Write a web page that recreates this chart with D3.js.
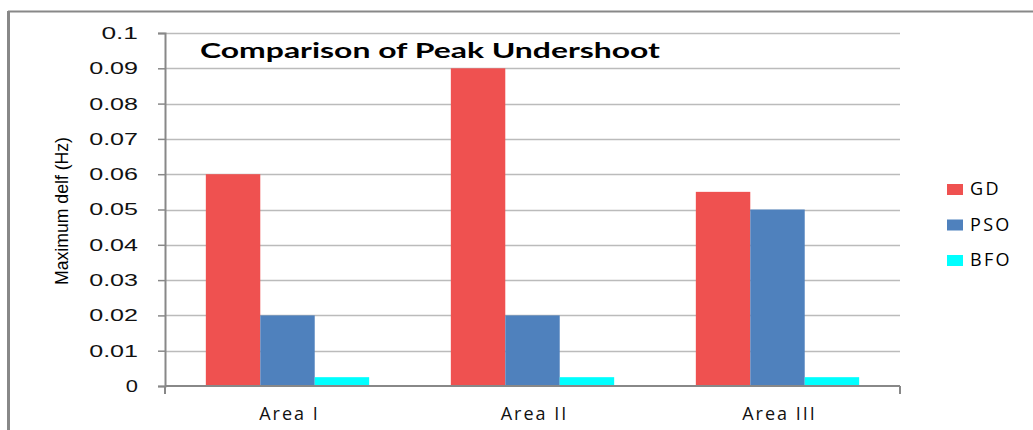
<!DOCTYPE html>
<html>
<head>
<meta charset="utf-8">
<script src="https://cdn.jsdelivr.net/npm/d3@7/dist/d3.min.js"></script>
<style>
  body { margin: 0; background: #fff; }
  svg { display: block; font-family: "Open Sans", "DejaVu Sans", sans-serif; }
</style>
</head>
<body>
<svg id="chart" width="1033" height="430"></svg>
<script>
const categories = ['Area I', 'Area II', 'Area III'];
const seriesNames = ['GD', 'PSO', 'BFO'];
const gdValues = [0.06, 0.09, 0.055];
const psoValues = [0.02, 0.02, 0.05];
const bfoValues = [0.0025, 0.0025, 0.0025];
const yTicks = [0, 0.01, 0.02, 0.03, 0.04, 0.05, 0.06, 0.07, 0.08, 0.09, 0.1];
const colors = ['#EF5150', '#4F81BD', '#00FFFF'];

const series = [gdValues, psoValues, bfoValues];

const svg = d3.select('#chart');
const plotLeft = 165, plotRight = 900, plotTop = 33, plotBottom = 386;

// outer frame (left and top edges only)
svg.append('line').attr('x1', 8.5).attr('x2', 8.5).attr('y1', 11).attr('y2', 430)
  .attr('stroke', '#888').attr('stroke-width', 3);
svg.append('line').attr('x1', 8).attr('x2', 1033).attr('y1', 11.5).attr('y2', 11.5)
  .attr('stroke', '#888').attr('stroke-width', 2);

const y = d3.scaleLinear().domain([0, 0.1]).range([plotBottom, plotTop]);
const x0 = d3.scaleBand().domain(categories).range([plotLeft, plotRight]);
// Excel style gap: band = 3 bars + 1.5 bar gap
const barW = x0.bandwidth() / 4.5;
const x1 = d3.scaleBand().domain(seriesNames)
  .range([barW * 0.75, barW * 3.75]);

// gridlines
svg.append('g').selectAll('line').data(yTicks.slice(1)).join('line')
  .attr('x1', plotLeft).attr('x2', plotRight)
  .attr('y1', d => Math.round(y(d)) + 0.5).attr('y2', d => Math.round(y(d)) + 0.5)
  .attr('stroke', '#bbb').attr('stroke-width', 1.5);

// bars
const groups = svg.append('g').selectAll('g').data(categories).join('g')
  .attr('transform', d => `translate(${x0(d)},0)`);
groups.selectAll('rect')
  .data((c, i) => seriesNames.map((s, j) => ({ s, v: series[j][i], j })))
  .join('rect')
  .attr('x', d => x1(d.s))
  .attr('width', x1.bandwidth())
  .attr('y', d => y(d.v))
  .attr('height', d => y(0) - y(d.v))
  .attr('fill', d => colors[d.j]);

// y axis
const fmt = d => d === 0 ? '0' : d3.format('~g')(+d.toFixed(2));
const yAxis = svg.append('g').attr('transform', `translate(${plotLeft},0)`)
  .call(d3.axisLeft(y).tickValues(yTicks).tickSize(7).tickPadding(20).tickFormat(fmt));
yAxis.select('.domain').attr('stroke', '#888').attr('stroke-width', 2);
yAxis.selectAll('.tick line').attr('stroke', '#888').attr('stroke-width', 1.5);
// the original labels are stretched wide
yAxis.selectAll('.tick text').attr('font-size', 17).attr('fill', '#111')
  .attr('textLength', d => fmt(d).length * 12.2)
  .attr('lengthAdjust', 'spacingAndGlyphs');

// x axis
const xAxis = svg.append('g').attr('transform', `translate(0,${plotBottom})`);
xAxis.append('line').attr('x1', plotLeft).attr('x2', plotRight).attr('y1', 0).attr('y2', 0)
  .attr('stroke', '#888').attr('stroke-width', 2);
xAxis.selectAll('.xt').data([plotLeft, plotRight]).join('line')
  .attr('x1', d => d).attr('x2', d => d).attr('y1', 0).attr('y2', 8)
  .attr('stroke', '#888').attr('stroke-width', 2);
xAxis.selectAll('text').data(categories).join('text')
  .attr('x', d => x0(d) + x0.bandwidth() / 2 + 2)
  .attr('y', 34)
  .attr('text-anchor', 'middle')
  .attr('font-size', 18).attr('letter-spacing', 2)
  .attr('fill', '#111')
  .text(d => d);

// title
svg.append('text').attr('x', 200).attr('y', 58)
  .attr('font-family', 'Lato, "Open Sans", sans-serif')
  .attr('font-weight', 'bold').attr('font-size', 20)
  .attr('textLength', 460).attr('lengthAdjust', 'spacingAndGlyphs')
  .attr('fill', '#000')
  .text('Comparison of Peak Undershoot');

// y axis title
svg.append('text')
  .attr('transform', 'translate(68,211) rotate(-90)')
  .attr('text-anchor', 'middle')
  .attr('font-family', '"Liberation Sans Narrow", "Liberation Sans", sans-serif')
  .attr('font-size', 18).attr('fill', '#000')
  .attr('textLength', 148).attr('lengthAdjust', 'spacingAndGlyphs')
  .text('Maximum delf (Hz)');

// legend
const legend = svg.append('g').selectAll('g').data(seriesNames).join('g')
  .attr('transform', (d, i) => `translate(947,${184 + i * 35.5})`);
legend.append('rect').attr('width', 16).attr('height', 11)
  .attr('fill', (d, i) => colors[i]);
legend.append('text').attr('x', 23).attr('y', 11)
  .attr('font-size', 18).attr('letter-spacing', 2.3).attr('fill', '#000')
  .text(d => d);
</script>
</body>
</html>
